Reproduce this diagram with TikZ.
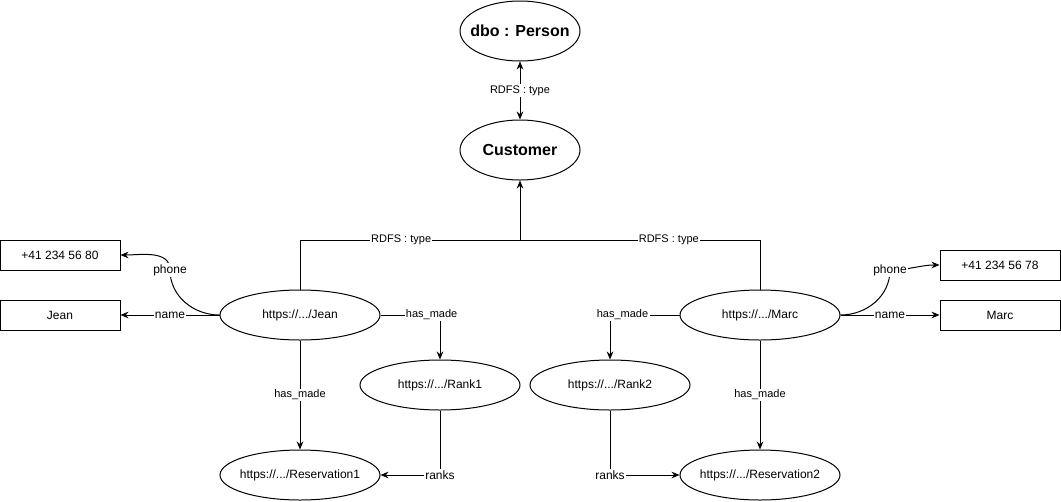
\documentclass[tikz,border=0pt]{standalone}
\usepackage{fontspec}
\setmainfont{Liberation Sans}
\usetikzlibrary{arrows.meta,shapes.geometric}

\begin{document}
\begin{tikzpicture}[x=0.75pt, y=-0.75pt, >={Stealth[length=6pt,width=5pt]}, line width=0.75pt,
    res/.style={draw, ellipse, minimum width=120pt, minimum height=37.5pt, inner xsep=-6pt, inner ysep=0pt, font=\fontsize{9}{10}\selectfont},
    cls/.style={res, minimum width=90pt, minimum height=45pt, font=\fontsize{12}{14}\selectfont\bfseries},
    lit/.style={draw, rectangle, minimum width=90pt, minimum height=22.5pt, font=\fontsize{9}{10}\selectfont},
    lbl/.style={fill=white, inner sep=1pt, font=\fontsize{9}{10}\selectfont},
    slbl/.style={fill=white, inner sep=1pt, font=\fontsize{8.25}{9}\selectfont}]
    \useasboundingbox (0,0) rectangle (1061,501);

    \node[cls] (person) at (520,31) {dbo : Person};
    \node[cls] (cust) at (520,150) {Customer};
    \node[res] (jean) at (300,315) {https://.../Jean};
    \node[res] (marc) at (760,315) {https://.../Marc};
    \node[res] (rank1) at (440,385) {https://.../Rank1};
    \node[res] (rank2) at (610,385) {https://.../Rank2};
    \node[res] (resv1) at (300,475) {https://.../Reservation1};
    \node[res] (resv2) at (760,475) {https://.../Reservation2};
    \node[lit] (tel1) at (60,255) {+41 234 56 80};
    \node[lit] (name1) at (60,315) {Jean};
    \node[lit] (tel2) at (1000,265) {+41 234 56 78};
    \node[lit] (name2) at (1000,315) {Marc};
    \coordinate (bus) at (520,240);
    \coordinate (ph1) at (170,270);
    \coordinate (ph2) at (890,270);

    \draw[<->] (cust) -- (person) node[midway, slbl] {RDFS : type};
    \draw (jean.north) |- (bus) node[pos=0.73, slbl] {RDFS : type};
    \draw (marc.north) |- (bus) node[pos=0.69, slbl] {RDFS : type};
    \draw[->] (bus) -- (cust);

    \draw[->] (jean) -- (name1) node[midway, lbl] {name};
    \draw[->] (marc) -- (name2) node[midway, lbl] {name};
    \draw[->] (jean.west) to[out=180, in=-90] (ph1) node[lbl] {phone} to[out=90, in=0] (tel1.east);
    \draw[->] (marc.east) to[out=0, in=-90] (ph2) node[lbl] {phone} to[out=0, in=180] (tel2.west);

    \draw[->] (jean.east) -| (rank1.north) node[pos=0.43, slbl] {has\_made};
    \draw[->] (marc.west) -| (rank2.north) node[pos=0.41, slbl] {has\_made};
    \draw[->] (jean) -- (resv1) node[midway, slbl] {has\_made};
    \draw[->] (marc) -- (resv2) node[midway, slbl] {has\_made};
    \draw[->] (rank1.south) |- (resv1.east) node[pos=0.5, lbl] {ranks};
    \draw[->] (rank2.south) |- (resv2.west) node[pos=0.5, lbl] {ranks};
\end{tikzpicture}
\end{document}
